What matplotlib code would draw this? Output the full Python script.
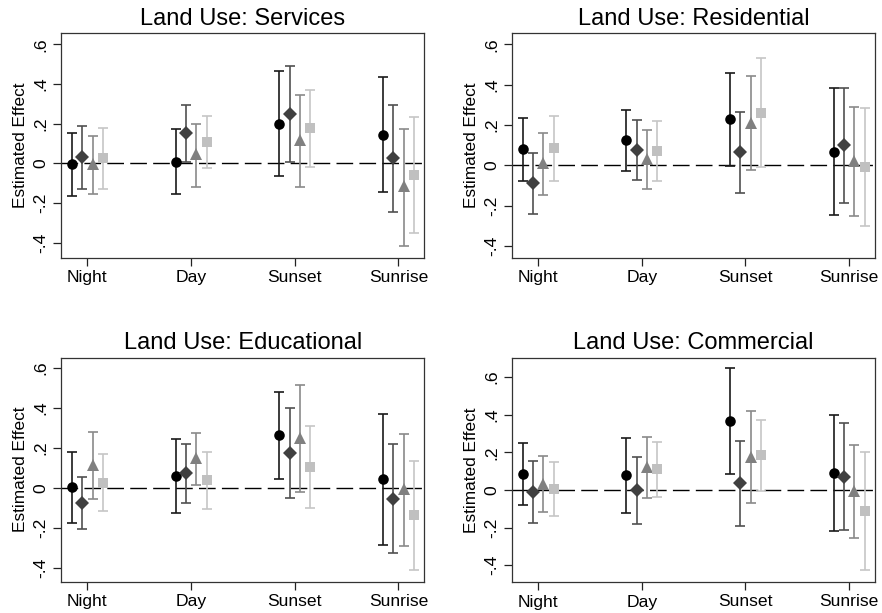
import matplotlib
matplotlib.use("Agg")
import matplotlib.pyplot as plt
import numpy as np

plt.rcParams['font.family'] = ['Liberation Sans', 'DejaVu Sans']

categories = ["Night", "Day", "Sunset", "Sunrise"]
panel_titles = ["Land Use: Services", "Land Use: Residential",
                "Land Use: Educational", "Land Use: Commercial"]
ytick_values = [-0.4, -0.2, 0.0, 0.2, 0.4, 0.6]
ytick_labels = ["-.4", "-.2", "0", ".2", ".4", ".6"]

# rows: series (circle, diamond, triangle, square); columns: categories
services_est = [[-0.005, 0.008, 0.200, 0.143],
                [0.032, 0.151, 0.249, 0.027],
                [-0.003, 0.045, 0.118, -0.116],
                [0.027, 0.108, 0.176, -0.061]]
services_lo = [[-0.163, -0.153, -0.064, -0.146],
               [-0.128, 0.007, 0.008, -0.244],
               [-0.153, -0.119, -0.118, -0.415],
               [-0.128, -0.025, -0.017, -0.353]]
services_hi = [[0.155, 0.173, 0.467, 0.434],
               [0.190, 0.294, 0.491, 0.294],
               [0.139, 0.198, 0.345, 0.173],
               [0.180, 0.240, 0.371, 0.234]]

residential_est = [[0.081, 0.124, 0.228, 0.066],
                   [-0.089, 0.078, 0.064, 0.099],
                   [0.010, 0.033, 0.212, 0.021],
                   [0.084, 0.071, 0.261, -0.008]]
residential_lo = [[-0.076, -0.028, -0.002, -0.245],
                  [-0.240, -0.073, -0.139, -0.185],
                  [-0.149, -0.119, -0.023, -0.253],
                  [-0.079, -0.079, -0.007, -0.302]]
residential_hi = [[0.236, 0.276, 0.458, 0.382],
                  [0.063, 0.225, 0.266, 0.382],
                  [0.162, 0.175, 0.445, 0.289],
                  [0.245, 0.218, 0.534, 0.284]]

educational_est = [[0.003, 0.060, 0.263, 0.045],
                   [-0.073, 0.073, 0.175, -0.053],
                   [0.117, 0.148, 0.252, -0.003],
                   [0.027, 0.038, 0.105, -0.137]]
educational_lo = [[-0.175, -0.123, 0.045, -0.283],
                  [-0.203, -0.073, -0.048, -0.325],
                  [-0.055, 0.015, -0.020, -0.288],
                  [-0.115, -0.103, -0.102, -0.410]]
educational_hi = [[0.182, 0.245, 0.482, 0.372],
                  [0.057, 0.222, 0.402, 0.222],
                  [0.280, 0.277, 0.517, 0.272],
                  [0.168, 0.178, 0.312, 0.135]]

commercial_est = [[0.085, 0.078, 0.366, 0.090],
                  [-0.011, -0.002, 0.035, 0.069],
                  [0.032, 0.120, 0.177, -0.004],
                  [0.004, 0.112, 0.186, -0.110]]
commercial_lo = [[-0.081, -0.120, 0.087, -0.216],
                 [-0.177, -0.179, -0.189, -0.211],
                 [-0.119, -0.042, -0.067, -0.253],
                 [-0.138, -0.037, -0.005, -0.425]]
commercial_hi = [[0.250, 0.274, 0.646, 0.398],
                 [0.156, 0.175, 0.258, 0.354],
                 [0.179, 0.280, 0.419, 0.241],
                 [0.147, 0.257, 0.373, 0.204]]

panels = [(services_est, services_lo, services_hi),
          (residential_est, residential_lo, residential_hi),
          (educational_est, educational_lo, educational_hi),
          (commercial_est, commercial_lo, commercial_hi)]

# styling
markers = ['o', 'D', '^', 's']
marker_sizes = [7.6, 6.8, 8.4, 7.0]
marker_colors = ['#000000', '#404040', '#808080', '#c0c0c0']
bar_colors = ['#1a1a1a', '#505050', '#8a8a8a', '#c6c6c6']
offsets = [-0.15, -0.05, 0.05, 0.15]

W, H = 882, 613
axes_px = [(61, 33.3, 424.3, 257.7), (511.7, 33.3, 875, 257.7),
           (61, 357.7, 424.3, 581.7), (511.7, 357.7, 875, 582)]
ylims = [(-0.476, 0.656), (-0.458, 0.655), (-0.469, 0.652), (-0.489, 0.703)]

fig = plt.figure(figsize=(W / 100, H / 100), dpi=100)
fig.patch.set_facecolor('white')

x = np.arange(1, len(categories) + 1)
for p, (est, lo, hi) in enumerate(panels):
    l, t, r, b = axes_px[p]
    ax = fig.add_axes([l / W, 1 - b / H, (r - l) / W, (b - t) / H])
    ax.axhline(0, color='black', lw=1.0, ls=(0, (12, 4.5)), zorder=1)
    for s in range(4):
        e = np.array(est[s]); lo_s = np.array(lo[s]); hi_s = np.array(hi[s])
        ax.errorbar(x + offsets[s], e, yerr=[e - lo_s, hi_s - e], fmt='none',
                    ecolor=bar_colors[s], elinewidth=1.2, capsize=3.3,
                    capthick=1.2, zorder=2)
        ax.plot(x + offsets[s], e, ls='none', marker=markers[s],
                ms=marker_sizes[s], color=marker_colors[s],
                markeredgewidth=0, zorder=3)
    ax.set_xlim(0.745, 4.25)
    ax.set_ylim(*ylims[p])
    ax.set_xticks(x)
    ax.set_xticklabels(categories, fontsize=12.6)
    ax.set_yticks(ytick_values)
    ax.set_yticklabels(ytick_labels, fontsize=12.6, rotation=90, va='center')
    ax.tick_params(direction='out', length=6, width=0.9, color='#222222', pad=3)
    ax.tick_params(axis='x', pad=3)
    for sp in ax.spines.values():
        sp.set_color('#333333')
        sp.set_linewidth(0.9)
    ax.set_title(panel_titles[p], fontsize=17, pad=6)
    ax.set_ylabel("Estimated Effect", fontsize=12.4, labelpad=4)

fig.savefig("out.png", dpi=100, facecolor='white')
